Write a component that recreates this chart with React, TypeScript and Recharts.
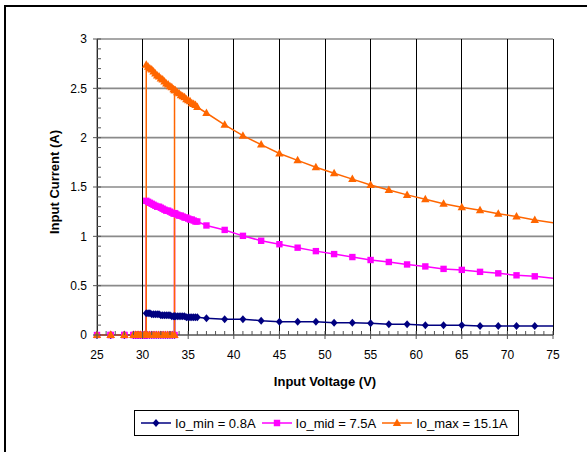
import React from "react";
import { LineChart, Line, XAxis, YAxis, CartesianGrid } from "recharts";

// ---- data (input sweep, UVLO hysteresis) ----
const turnOffVolts = 30.4;
const turnOnVolts = 33.5;
const edgeVolts = 75; // line runs to the axis end, no marker there

// input stays at zero below turn-on
const zeroVolts = [
  25, 26.5, 28, 29, 29.25, 29.5, 29.75, 30, 30.25, 30.5, 30.75, 31, 31.25, 31.5,
  31.75, 32, 32.25, 32.5, 32.75, 33, 33.25, 33.5,
];

// fine steps just above turn-off
const denseVolts = [
  30.4, 30.6, 30.8, 31, 31.2, 31.4, 31.6, 31.8, 32, 32.2, 32.4, 32.6, 32.8, 33,
  33.2, 33.4, 33.6, 33.8, 34, 34.2, 34.4, 34.6, 34.8, 35, 35.2, 35.4, 35.6,
  35.8, 36,
];
// coarse 2V steps
const sparseVolts = [
  37, 39, 41, 43, 45, 47, 49, 51, 53, 55, 57, 59, 61, 63, 65, 67, 69, 71, 73,
];

const maxDense = [
  2.74, 2.72, 2.7, 2.69, 2.67, 2.65, 2.63, 2.62, 2.6, 2.59, 2.57, 2.55, 2.54,
  2.52, 2.51, 2.49, 2.48, 2.46, 2.45, 2.43, 2.42, 2.41, 2.39, 2.38, 2.37, 2.35,
  2.34, 2.33, 2.31,
];
const maxSparse = [
  2.25, 2.13, 2.02, 1.93, 1.84, 1.77, 1.7, 1.64, 1.58, 1.52, 1.47, 1.42, 1.375,
  1.33, 1.295, 1.265, 1.23, 1.2, 1.165,
];
const maxTurnOn = 2.48;
const maxEdge = 1.138;

const midDense = [
  1.36, 1.35, 1.34, 1.33, 1.32, 1.31, 1.3, 1.3, 1.29, 1.28, 1.27, 1.26, 1.26,
  1.25, 1.24, 1.23, 1.23, 1.22, 1.21, 1.21, 1.2, 1.19, 1.19, 1.18, 1.17, 1.17,
  1.16, 1.15, 1.15,
];
const midSparse = [
  1.11, 1.065, 1.005, 0.955, 0.92, 0.885, 0.85, 0.82, 0.79, 0.76, 0.74, 0.715,
  0.695, 0.67, 0.66, 0.64, 0.625, 0.605, 0.595,
];
const midTurnOn = 1.235;
const midEdge = 0.575;

const minDense = [
  0.22, 0.22, 0.22, 0.21, 0.21, 0.21, 0.21, 0.21, 0.2, 0.2, 0.2, 0.2, 0.2, 0.2,
  0.19, 0.19, 0.19, 0.19, 0.19, 0.19, 0.19, 0.19, 0.18, 0.18, 0.18, 0.18, 0.18,
  0.18, 0.18,
];
const minSparse = [
  0.17, 0.16, 0.16, 0.145, 0.135, 0.135, 0.135, 0.125, 0.125, 0.12, 0.11, 0.11,
  0.1, 0.1, 0.1, 0.09, 0.09, 0.09, 0.09,
];
const minTurnOn = 0.19;
const minEdge = 0.09;

// ticks
const xMajorTicks = [25, 30, 35, 40, 45, 50, 55, 60, 65, 70, 75];
const xAllTicks = [
  25, 26, 27, 28, 29, 30, 31, 32, 33, 34, 35, 36, 37, 38, 39, 40, 41, 42, 43,
  44, 45, 46, 47, 48, 49, 50, 51, 52, 53, 54, 55, 56, 57, 58, 59, 60, 61, 62,
  63, 64, 65, 66, 67, 68, 69, 70, 71, 72, 73, 74, 75,
];
const yMajorTicks = [0, 0.5, 1, 1.5, 2, 2.5, 3];
const yAllTicks = [
  0, 0.1, 0.2, 0.3, 0.4, 0.5, 0.6, 0.7, 0.8, 0.9, 1, 1.1, 1.2, 1.3, 1.4, 1.5,
  1.6, 1.7, 1.8, 1.9, 2, 2.1, 2.2, 2.3, 2.4, 2.5, 2.6, 2.7, 2.8, 2.9, 3,
];

const NAVY = "#000080";
const MAGENTA = "#FF00FF";
const ORANGE = "#FF6600";
const FONT = '"Liberation Sans", Arial, sans-serif';

type Pt = { v: number; i: number };

// sweep down the curve, drop to 0 at turn-off, back up along 0, jump at turn-on
function buildSweep(
  dense: number[],
  sparse: number[],
  onValue: number,
  edgeValue: number
): Pt[] {
  const down: Pt[] = [
    { v: edgeVolts, i: edgeValue },
    ...sparseVolts.map((v, k) => ({ v, i: sparse[k] })).reverse(),
    ...denseVolts.map((v, k) => ({ v, i: dense[k] })).reverse(),
  ];
  const zerosDown = zeroVolts
    .filter((v) => v < turnOffVolts)
    .reverse()
    .map((v) => ({ v, i: 0 }));
  const zerosUp = zeroVolts.slice(1).map((v) => ({ v, i: 0 }));
  return [
    ...down,
    { v: turnOffVolts, i: 0 },
    ...zerosDown,
    ...zerosUp,
    { v: turnOnVolts, i: onValue },
  ];
}

const minData = buildSweep(minDense, minSparse, minTurnOn, minEdge);
const midData = buildSweep(midDense, midSparse, midTurnOn, midEdge);
const maxData = buildSweep(maxDense, maxSparse, maxTurnOn, maxEdge);

// marker shapes
const diamondPath = (cx: number, cy: number) =>
  `M${cx},${cy - 4}L${cx + 3.5},${cy}L${cx},${cy + 4}L${cx - 3.5},${cy}Z`;
const squarePath = (cx: number, cy: number) =>
  `M${cx - 3.2},${cy - 3.2}h6.4v6.4h-6.4Z`;
const trianglePath = (cx: number, cy: number) =>
  `M${cx},${cy - 4.5}L${cx + 4.2},${cy + 3}L${cx - 4.2},${cy + 3}Z`;

const makeDot =
  (shape: (cx: number, cy: number) => string, color: string) => (p: any) => {
    const key = p.key ?? `d-${p.index}`;
    if (p.cx == null || p.cy == null || p.payload?.v === edgeVolts)
      return <g key={key} />;
    return <path key={key} d={shape(p.cx, p.cy)} fill={color} stroke="none" />;
  };

const XTick = (p: any) => {
  const { x, y, payload } = p;
  const major = xMajorTicks.includes(payload.value);
  if (!major)
    return <line x1={x} x2={x} y1={y - 4} y2={y} stroke="#555" />;
  return (
    <g>
      <line x1={x} x2={x} y1={y - 4} y2={y + 4} stroke="#555" />
      <text
        x={x}
        y={y + 24}
        textAnchor="middle"
        fontSize={12}
        fontFamily={FONT}
        fill="#000"
      >
        {payload.value}
      </text>
    </g>
  );
};

const YTick = (p: any) => {
  const { x, y, payload } = p;
  const major = yMajorTicks.includes(payload.value);
  if (!major)
    return <line x1={x} x2={x + 4} y1={y} y2={y} stroke="#555" />;
  return (
    <g>
      <line x1={x - 4} x2={x + 4} y1={y} y2={y} stroke="#555" />
      <text
        x={x - 10}
        y={y + 4.3}
        textAnchor="end"
        fontSize={12}
        fontFamily={FONT}
        fill="#000"
      >
        {payload.value}
      </text>
    </g>
  );
};

const legendItems = [
  { name: "Io_min = 0.8A", color: NAVY, shape: diamondPath },
  { name: "Io_mid = 7.5A", color: MAGENTA, shape: squarePath },
  { name: "Io_max = 15.1A", color: ORANGE, shape: trianglePath },
];

export default function App() {
  return (
    <div
      style={{
        position: "absolute",
        left: 0,
        top: 0,
        width: 587,
        height: 452,
        background: "#fff",
        overflow: "hidden",
        fontFamily: FONT,
      }}
    >
      {/* outer frame, cut off at right and bottom */}
      <div
        style={{
          position: "absolute",
          left: 4,
          top: 5,
          width: 700,
          height: 600,
          borderLeft: "2px solid #000",
          borderTop: "2px solid #000",
        }}
      />
      <div style={{ position: "absolute", left: 0, top: 0 }}>
        <LineChart
          width={587}
          height={452}
          margin={{ top: 39, right: 34, bottom: 65, left: 0 }}
        >
          {/* horizontal grid: soft grey, vertical grid: crisp black */}
          <CartesianGrid
            vertical={false}
            stroke="#8a8a8a"
            strokeWidth={1.6}
            horizontalValues={yMajorTicks}
          />
          <CartesianGrid
            horizontal={false}
            stroke="#000"
            strokeWidth={1}
            shapeRendering="crispEdges"
            verticalValues={xMajorTicks}
          />
          <XAxis
            dataKey="v"
            type="number"
            domain={[25, 75]}
            ticks={xAllTicks}
            interval={0}
            height={52}
            tickSize={0}
            tickMargin={0}
            tickLine={false}
            axisLine={{ stroke: "#555" }}
            tick={<XTick />}
            label={{
              content: (props: any) => {
                const vb = props.viewBox || {};
                return (
                  <text
                    x={vb.x + vb.width / 2}
                    y={vb.y + 51}
                    textAnchor="middle"
                    fontSize={13}
                    fontWeight="bold"
                    fontFamily={FONT}
                    fill="#000"
                  >
                    Input Voltage (V)
                  </text>
                );
              },
            }}
          />
          <YAxis
            type="number"
            domain={[0, 3]}
            ticks={yAllTicks}
            interval={0}
            width={97}
            tickSize={0}
            tickMargin={0}
            tickLine={false}
            axisLine={{ stroke: "#555" }}
            tick={<YTick />}
            label={{
              content: () => (
                <text
                  x={59}
                  y={182}
                  transform="rotate(-90 59 182)"
                  textAnchor="middle"
                  fontSize={13}
                  fontWeight="bold"
                  fontFamily={FONT}
                  fill="#000"
                >
                  Input Current (A)
                </text>
              ),
            }}
          />
          <Line
            data={minData}
            dataKey="i"
            type="linear"
            stroke={NAVY}
            strokeWidth={1.5}
            dot={makeDot(diamondPath, NAVY)}
            activeDot={false}
            isAnimationActive={false}
          />
          <Line
            data={midData}
            dataKey="i"
            type="linear"
            stroke={MAGENTA}
            strokeWidth={1.5}
            dot={makeDot(squarePath, MAGENTA)}
            activeDot={false}
            isAnimationActive={false}
          />
          <Line
            data={maxData}
            dataKey="i"
            type="linear"
            stroke={ORANGE}
            strokeWidth={1.5}
            dot={makeDot(trianglePath, ORANGE)}
            activeDot={false}
            isAnimationActive={false}
          />
        </LineChart>
      </div>
      {/* legend */}
      <div
        style={{
          position: "absolute",
          left: 134,
          top: 410,
          width: 377,
          height: 24,
          border: "1px solid #000",
          display: "flex",
          alignItems: "center",
          paddingLeft: 6,
          boxSizing: "content-box",
          fontSize: 13,
          color: "#000",
          whiteSpace: "nowrap",
        }}
      >
        {legendItems.map((it) => (
          <div
            key={it.name}
            style={{ display: "flex", alignItems: "center", marginRight: 6 }}
          >
            <svg width={30} height={12} style={{ marginRight: 4 }}>
              <line x1={0} x2={30} y1={6} y2={6} stroke={it.color} strokeWidth={1.5} />
              <path d={it.shape(15, 6)} fill={it.color} />
            </svg>
            <span>{it.name}</span>
          </div>
        ))}
      </div>
    </div>
  );
}
